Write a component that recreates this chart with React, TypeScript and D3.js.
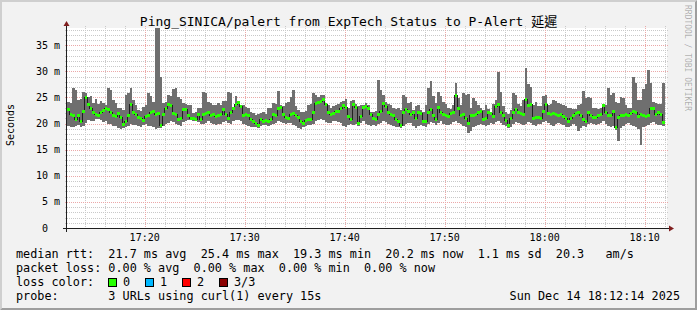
import React from 'react';
import * as d3 from 'd3';

const W = 697;
const H = 310;
const PLOT_L = 67;
const PLOT_R = 667;
const PLOT_T = 28;
const PLOT_B = 228;

const TITLE = 'Ping_SINICA/palert from ExpTech Status to P-Alert 延遲';
const Y_LABEL = 'Seconds';
const WATERMARK = 'RRDTOOL / TOBI OETIKER';
const END_TIME = new Date(2025, 11, 14, 18, 12, 14);
const SPAN_SECONDS = 3600;
const STEP_SECONDS = 15;
const Y_MAX_MS = 38.3;
const Y_TICKS_MS = [0, 5, 10, 15, 20, 25, 30, 35];

// median rtt (ms)
const median = [
  22.6, 21.8, 21.6, 20.7, 21.5, 20.4, 22.4, 25.0, 23.7, 22.9,
  22.2, 21.8, 21.6, 22.2, 22.5, 22.9, 22.6, 22.2, 21.6, 21.3,
  22.0, 21.1, 19.9, 20.4, 21.6, 23.6, 22.2, 21.8, 21.1, 20.9,
  20.5, 21.3, 21.6, 22.2, 22.4, 21.8, 22.0, 19.7, 21.8, 22.9,
  23.7, 23.4, 22.0, 21.8, 20.7, 21.0, 22.6, 22.6, 21.6, 21.0,
  20.9, 20.8, 21.8, 20.7, 21.8, 22.0, 22.2, 21.5, 21.8, 21.3,
  21.5, 21.8, 22.6, 21.8, 20.9, 22.2, 22.9, 23.6, 24.1, 23.3,
  21.6, 21.8, 21.5, 20.7, 20.3, 20.1, 19.7, 20.7, 20.4, 20.5,
  20.3, 20.7, 21.8, 21.5, 22.9, 23.0, 21.8, 21.1, 21.0, 21.8,
  22.0, 21.6, 21.1, 20.4, 20.1, 20.5, 20.8, 20.7, 22.2, 23.9,
  24.1, 24.3, 24.7, 23.6, 22.2, 21.8, 22.0, 22.4, 22.3, 22.8,
  23.4, 23.0, 21.3, 20.7, 23.6, 23.0, 20.1, 21.3, 23.0, 23.3,
  22.9, 21.8,
  21.0, 20.7, 21.8, 22.4, 23.9, 23.3, 22.2, 21.8, 21.5, 20.7,
  20.3, 19.7, 22.2, 22.6, 22.4, 21.8, 22.2, 21.0, 22.2, 22.0,
  20.3, 20.4, 22.2, 22.6, 21.6, 20.7, 23.0, 22.2, 21.8, 21.5,
  21.3, 22.0, 22.2, 25.4, 22.9, 21.5, 21.8, 20.9, 20.1, 21.6,
  21.5, 21.8, 22.2, 22.4, 20.7, 20.9, 22.2, 22.0, 21.3, 23.3,
  23.7, 22.2, 21.5, 20.5, 19.7, 21.0, 22.2, 22.6, 22.2, 22.0,
  21.8,
  24.6, 23.5, 23.6, 20.9, 21.1, 21.1, 20.9, 22.4, 23.6, 22.0,
  21.8, 22.0, 21.8, 21.6, 21.8, 21.3, 21.0, 20.4, 20.9, 21.5,
  22.0, 22.2, 21.6, 20.7, 20.4, 22.2, 21.6, 21.1, 21.1, 21.5,
  21.8, 23.4, 22.2, 21.5, 21.6, 22.3, 19.3, 21.1, 21.5, 21.5,
  21.8, 21.5, 22.0, 22.4, 22.2, 21.3, 21.8, 21.6, 21.3, 21.6,
  22.9, 22.8, 21.8, 22.2, 21.8, 20.2,
];

// smoke upper edge (ms)
const smokeMax = [
  24.2, 24.0, 26.8, 26.5, 24.5, 24.7, 26.1, 25.8, 25.0, 25.2,
  24.0, 24.7, 23.7, 24.3, 23.9, 23.6, 26.8, 26.5, 24.5, 24.0,
  22.9, 23.0, 22.6, 25.4, 25.8, 26.8, 24.5, 23.6, 22.6, 22.4,
  23.2, 23.6, 25.8, 25.2, 24.2, 40.0, 40.0, 29.0, 23.9, 24.2,
  25.5, 25.2, 26.7, 26.8, 25.0, 24.7, 23.9, 23.7, 23.6, 23.5,
  22.0, 22.2, 22.9, 23.0, 26.1, 25.8, 24.2, 23.9, 23.6, 23.5,
  23.9, 23.6, 24.3, 24.3, 26.1, 25.8, 23.0, 25.2, 24.2, 23.6,
  23.6, 23.2, 22.9, 22.2, 22.0, 21.6, 21.8, 22.0, 22.2, 21.8,
  22.9, 23.0, 23.9, 23.7, 26.2, 23.6, 23.3, 23.9, 24.2, 25.0,
  26.4, 23.3, 22.6, 22.3, 22.2, 22.4, 23.5, 23.7, 25.8, 25.5,
  25.0, 25.4, 25.5, 24.0, 23.6, 23.0, 23.3, 23.5, 23.7, 24.1,
  24.3, 24.7, 22.9, 24.3, 24.5, 23.8, 23.3, 23.5, 23.5, 24.0,
  23.5, 22.2,
  22.2, 22.4, 28.3, 26.4, 25.5, 24.2, 23.7, 23.6, 22.9, 22.8,
  23.0, 22.6, 25.5, 25.0, 23.9, 24.1, 22.6, 23.3, 23.6, 22.6,
  22.3, 23.5, 26.8, 28.1, 25.2, 23.9, 26.1, 25.2, 24.1, 23.7,
  23.0, 22.8, 23.6, 27.7, 24.8, 23.6, 25.8, 25.4, 25.6, 22.9,
  24.8, 24.3, 23.6, 23.0, 22.6, 23.6, 22.8, 22.2, 23.7, 24.5,
  29.9, 26.1, 23.3, 22.2, 21.8, 22.6, 25.8, 25.5, 23.7, 23.3,
  24.5,
  30.6, 27.5, 27.0, 23.6, 24.2, 23.3, 23.4, 25.2, 25.5, 23.6,
  23.8, 24.5, 24.3, 23.9, 23.8, 23.5, 23.4, 22.9, 22.9, 22.8,
  22.7, 23.6, 23.8, 26.2, 24.8, 25.0, 24.9, 22.9, 22.9, 22.8,
  22.9, 23.7, 23.6, 26.8, 25.5, 25.8, 24.2, 24.0, 25.0, 24.9,
  23.6, 22.9, 23.0, 29.0, 27.7, 24.5, 24.5, 26.6, 27.5, 30.3,
  27.7, 24.2, 24.0, 23.7, 23.7, 27.7,
];

// smoke lower edge (ms)
const smokeMin = [
  19.6, 19.4, 19.3, 19.5, 19.8, 19.4, 19.6, 20.2, 20.6, 20.5,
  20.4, 20.8, 20.9, 20.6, 20.3, 20.5, 20.0, 19.9, 19.6, 19.5,
  19.2, 19.0, 19.1, 19.3, 19.6, 19.9, 19.8, 19.7, 19.5, 19.4,
  19.7, 19.9, 19.6, 19.5, 19.3, 19.0, 19.1, 19.2, 19.5, 19.9,
  20.2, 20.4, 20.3, 20.0, 19.8, 19.6, 20.3, 20.5, 20.7, 20.6,
  20.4, 20.5, 20.3, 20.0, 19.9, 20.2, 20.4, 20.1, 19.9, 19.8,
  19.9, 20.0, 20.3, 20.5, 20.1, 19.9, 20.5, 20.6, 20.7, 20.4,
  20.0, 19.8, 19.6, 19.4, 19.3, 19.4, 19.2, 19.5, 19.7, 19.8,
  19.6, 19.7, 19.9, 20.2, 20.4, 20.3, 20.1, 19.9, 20.1, 20.2,
  19.8, 19.5, 19.2, 19.0, 19.3, 19.5, 19.7, 19.8, 20.0, 20.5,
  20.7, 20.8, 20.6, 20.3, 20.1, 20.2, 20.4, 20.5, 20.3, 20.1,
  19.6, 19.4, 19.8, 20.0, 19.7, 19.9, 19.6, 20.2, 20.4, 20.0,
  19.7, 19.5,
  19.8, 19.6, 19.9, 20.2, 20.5, 20.3, 20.0, 19.8, 19.6, 19.4,
  19.3, 19.2, 19.6, 20.0, 20.2, 20.1, 19.5, 19.2, 19.5, 19.8,
  19.6, 19.4, 19.9, 20.3, 20.1, 19.8, 20.2, 20.4, 20.0, 19.8,
  19.7, 20.0, 20.3, 20.4, 20.1, 19.9, 19.5, 19.3, 18.2, 18.6,
  19.4, 19.6, 19.8, 20.0, 19.7, 19.5, 19.8, 20.2, 20.0, 20.3,
  20.5, 20.1, 19.8, 19.6, 19.2, 19.4, 19.9, 20.3, 20.1, 19.9,
  19.7,
  20.0, 20.3, 20.1, 19.8, 19.6, 19.9, 20.0, 20.3, 20.5, 20.1,
  19.8, 19.6, 19.9, 20.2, 20.0, 19.7, 19.4, 19.3, 19.6, 19.9,
  19.5, 18.5, 19.2, 19.6, 19.4, 19.9, 20.2, 20.0, 19.7, 19.9,
  20.2, 20.4, 20.0, 19.6, 19.3, 19.5, 18.8, 16.6, 19.2, 19.6,
  19.9, 20.1, 19.8, 19.5, 19.4, 19.0, 15.9, 19.3, 19.6, 19.8,
  20.1, 20.3, 19.9, 19.7, 19.8, 19.6,
];

const LEGEND_RTT = 'median rtt:  21.7 ms avg  25.4 ms max  19.3 ms min  20.2 ms now  1.1 ms sd  20.3   am/s';
const LEGEND_LOSS = 'packet loss: 0.00 % avg  0.00 % max  0.00 % min  0.00 % now';
const LOSS_LABEL = 'loss color:';
const LOSS_ITEMS = [
  { label: '0', color: '#26ff00' },
  { label: '1', color: '#00b8ff' },
  { label: '2', color: '#ff0000' },
  { label: '3/3', color: '#8a0000' },
];
const LEGEND_PROBE = 'probe:       3 URLs using curl(1) every 15s';
const DATE_TEXT = 'Sun Dec 14 18:12:14 2025';

const FONT = "'DejaVu Sans Mono', 'Noto Sans CJK TC', monospace";
const LEG_SIZE = 11.8;

type P = { t: Date; k: number };

export default function App() {
  const start = new Date(END_TIME.getTime() - SPAN_SECONDS * 1000);
  const x = d3.scaleTime().domain([start, END_TIME]).range([PLOT_L, PLOT_R]);
  const y = d3.scaleLinear().domain([0, Y_MAX_MS]).range([PLOT_B, PLOT_T]);
  const n = median.length;
  const pts: P[] = d3.range(n + 1).map((i) => ({
    t: new Date(start.getTime() + i * STEP_SECONDS * 1000),
    k: Math.min(i, n - 1),
  }));

  const smokePath = d3
    .area<P>()
    .x((p) => x(p.t))
    .y0((p) => y(smokeMin[p.k]))
    .y1((p) => y(smokeMax[p.k]))
    .curve(d3.curveStepAfter)(pts) as string;

  const medPath = d3
    .line<P>()
    .x((p) => x(p.t))
    .y((p) => y(median[p.k]))
    .curve(d3.curveStepAfter)(pts) as string;

  const swidth = (1.5 * Y_MAX_MS) / (PLOT_B - PLOT_T);
  const lossPath = d3
    .area<P>()
    .x((p) => x(p.t))
    .y0((p) => y(median[p.k] - swidth))
    .y1((p) => y(median[p.k] + swidth))
    .curve(d3.curveStepAfter)(pts) as string;

  const minorY = d3.range(1, Y_MAX_MS, 1).filter((v) => v % 5 !== 0);
  const majorY = Y_TICKS_MS;
  const minuteTicks = d3.timeMinute.every(2)!.range(start, END_TIME);
  const minorX = minuteTicks.filter((t) => t.getMinutes() % 10 !== 0);
  const majorX = minuteTicks.filter((t) => t.getMinutes() % 10 === 0);
  const fmt = d3.timeFormat('%H:%M');

  const minorCol = '#c9c9c9';
  const majorCol = '#eba8a8';
  const cw = LEG_SIZE * 0.602;

  return (
    <div style={{ position: 'absolute', left: 0, top: 0 }}>
      <svg width={W} height={H} style={{ display: 'block' }}>
        <defs>
          <clipPath id="plotclip">
            <rect x={PLOT_L} y={PLOT_T} width={PLOT_R - PLOT_L} height={PLOT_B - PLOT_T} />
          </clipPath>
        </defs>
        <rect x={0} y={0} width={W} height={H} fill="#f2f2f2" />
        <polygon points={`0,${H} 2,${H - 2} 2,2 ${W - 2},2 ${W},0 0,0`} fill="#cfcfcf" />
        <polygon points={`2,${H - 2} ${W - 2},${H - 2} ${W - 2},2 ${W},0 ${W},${H} 0,${H}`} fill="#9e9e9e" />
        <rect x={PLOT_L} y={PLOT_T} width={PLOT_R - PLOT_L} height={PLOT_B - PLOT_T} fill="#ffffff" />

        {/* grid */}
        <g shapeRendering="crispEdges">
          {minorY.map((v) => (
            <line key={'my' + v} x1={PLOT_L - 2} x2={PLOT_R + 2} y1={Math.round(y(v)) + 0.5} y2={Math.round(y(v)) + 0.5}
              stroke={minorCol} strokeDasharray="1,1" />
          ))}
          {minorX.map((t) => (
            <line key={'mx' + t.getTime()} x1={Math.round(x(t)) + 0.5} x2={Math.round(x(t)) + 0.5} y1={PLOT_T - 2} y2={PLOT_B + 2}
              stroke={minorCol} strokeDasharray="1,1" />
          ))}
          {majorY.filter((v) => v > 0).map((v) => (
            <line key={'My' + v} x1={PLOT_L - 2} x2={PLOT_R + 2} y1={Math.round(y(v)) + 0.5} y2={Math.round(y(v)) + 0.5}
              stroke={majorCol} strokeDasharray="1,1" />
          ))}
          {majorX.map((t) => (
            <line key={'Mx' + t.getTime()} x1={Math.round(x(t)) + 0.5} x2={Math.round(x(t)) + 0.5} y1={PLOT_T - 2} y2={PLOT_B + 2}
              stroke={majorCol} strokeDasharray="1,1" />
          ))}
        </g>

        {/* data */}
        <g clipPath="url(#plotclip)" shapeRendering="crispEdges">
          <path d={smokePath} fill="#6f6f6f" />
          <path d={medPath} fill="none" stroke="#202020" strokeWidth={1} />
          <path d={lossPath} fill="#26ff00" />
        </g>

        {/* axes */}
        <g shapeRendering="crispEdges">
          <line x1={PLOT_L - 4} x2={PLOT_R + 4} y1={PLOT_B + 0.5} y2={PLOT_B + 0.5} stroke="#1f1f1f" />
          <line x1={PLOT_L - 0.5} x2={PLOT_L - 0.5} y1={PLOT_B + 4} y2={PLOT_T - 4} stroke="#1f1f1f" />
        </g>
        <polygon points={`${PLOT_R + 2},${PLOT_B - 2.5} ${PLOT_R + 2},${PLOT_B + 3.5} ${PLOT_R + 7},${PLOT_B + 0.5}`} fill="#801f1f" />
        <polygon points={`${PLOT_L - 3.5},${PLOT_T - 2} ${PLOT_L + 2.5},${PLOT_T - 2} ${PLOT_L - 0.5},${PLOT_T - 7}`} fill="#801f1f" />

        {/* tick labels */}
        <g fontFamily={FONT} fontSize={10} fill="#000">
          {majorY.map((v) => (
            <text key={'yl' + v} x={60} y={y(v) + 3.5} textAnchor="end" xmlSpace="preserve" style={{ whiteSpace: 'pre' }}>
              {v === 0 ? '0  ' : `${v} m`}
            </text>
          ))}
          {majorX.map((t) => (
            <text key={'xl' + t.getTime()} x={x(t)} y={241} textAnchor="middle">
              {fmt(t)}
            </text>
          ))}
        </g>

        <text transform={`translate(14,125) rotate(-90)`} fontFamily={FONT} fontSize={10} textAnchor="middle" fill="#000">
          {Y_LABEL}
        </text>

        <text x={W / 2} y={26} fontFamily={FONT} fontSize={13} textAnchor="middle" fill="#000">
          {TITLE}
        </text>

        <text transform={`translate(685,5) rotate(90)`} fontFamily={FONT} fontSize={8} fill="#000" fillOpacity={0.3}>
          {WATERMARK}
        </text>

        {/* legend */}
        <g fontFamily={FONT} fontSize={LEG_SIZE} fill="#000" style={{ whiteSpace: 'pre' }}>
          <text x={16} y={258} xmlSpace="preserve">{LEGEND_RTT}</text>
          <text x={16} y={272} xmlSpace="preserve">{LEGEND_LOSS}</text>
          <text x={16} y={286}>{LOSS_LABEL}</text>
          {LOSS_ITEMS.map((d, i) => (
            <g key={'li' + i}>
              <rect x={108.5 + i * 37} y={278.5} width={8} height={8} fill={d.color} stroke="#000" strokeWidth={1} shapeRendering="crispEdges" />
              <text x={123 + i * 37} y={286}>{d.label}</text>
            </g>
          ))}
          <text x={16} y={300} xmlSpace="preserve">{LEGEND_PROBE}</text>
          <text x={680} y={300} textAnchor="end">{DATE_TEXT}</text>
        </g>
        <desc>{cw}</desc>
      </svg>
    </div>
  );
}
